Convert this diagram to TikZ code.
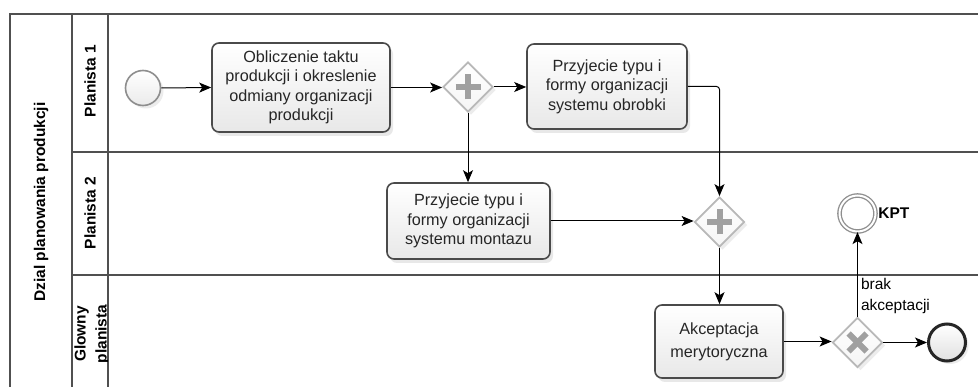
\documentclass[tikz,border=0pt]{standalone}
\usepackage{fontspec}
\setmainfont{Liberation Sans}
\usetikzlibrary{shapes.geometric,arrows.meta,shadows}
\definecolor{framec}{HTML}{505050}
\definecolor{taskb}{HTML}{4A4A4A}
\definecolor{gwb}{HTML}{B8B8B8}
\definecolor{markc}{HTML}{A0A0A0}
\definecolor{evb}{HTML}{8E8E8E}
\begin{document}
\begin{tikzpicture}[x=1pt,y=-1pt,
  font=\fontsize{16.2}{19.5}\selectfont,
  frameline/.style={draw=framec,line width=1.3pt},
  lanelabel/.style={rotate=90,font=\bfseries\fontsize{15.5}{21}\selectfont,align=center,inner sep=0pt},
  task/.style={draw=taskb,line width=1.6pt,rounded corners=7pt,top color=white,bottom color=black!9,
    align=center,inner sep=2pt,text=black!85,
    drop shadow={opacity=0.18,shadow xshift=3pt,shadow yshift=-4pt}},
  gwbase/.style={diamond,aspect=1,draw=gwb,line width=1.8pt,top color=white,bottom color=black!4,
    minimum width=50pt,minimum height=50pt,inner sep=0pt,
    drop shadow={opacity=0.15,shadow xshift=3pt,shadow yshift=-3pt}},
  pgw/.style={gwbase,path picture={
    \draw[markc,line width=6pt] ([xshift=-12.5pt]path picture bounding box.center) -- ([xshift=12.5pt]path picture bounding box.center);
    \draw[markc,line width=6pt] ([yshift=-12.5pt]path picture bounding box.center) -- ([yshift=12.5pt]path picture bounding box.center);}},
  xgw/.style={gwbase,path picture={
    \draw[markc,line width=6pt] ([shift={(-9pt,-9pt)}]path picture bounding box.center) -- ([shift={(9pt,9pt)}]path picture bounding box.center);
    \draw[markc,line width=6pt] ([shift={(-9pt,9pt)}]path picture bounding box.center) -- ([shift={(9pt,-9pt)}]path picture bounding box.center);}},
  startev/.style={circle,draw=evb,line width=1.6pt,top color=white,bottom color=black!8,minimum size=35pt,inner sep=0pt,
    drop shadow={opacity=0.15,shadow xshift=3pt,shadow yshift=-3pt}},
  endev/.style={circle,draw=black!85,line width=3pt,top color=white,bottom color=black!12,minimum size=37pt,inner sep=0pt,
    drop shadow={opacity=0.15,shadow xshift=3pt,shadow yshift=-3pt}},
  interev/.style={circle,draw=evb,line width=1.3pt,double=white,double distance=2pt,fill=white,minimum size=36pt,inner sep=0pt},
  flow/.style={draw=black,line width=1pt,-{Stealth[length=12pt,width=10pt,inset=3pt]}}
]
\useasboundingbox (0,0) rectangle (978,387);
\fill[white] (0,0) rectangle (978,387);
% pool and lanes
\draw[frameline] (978,14) -- (10,14) -- (10,390);
\draw[frameline] (72,14) -- (72,390);
\draw[frameline] (108,14) -- (108,390);
\draw[frameline] (72,152) -- (978,152);
\draw[frameline] (72,275) -- (978,275);
\node[lanelabel] (pool) at (41,202) {Dzial planowania produkcji};
\node[lanelabel] (lane1) at (90,81) {Planista 1};
\node[lanelabel] (lane2) at (90,213) {Planista 2};
\begin{scope}
\clip (72,275) rectangle (107.5,387);
\node[lanelabel] (lane3) at (92,334) {Glowny\\planista};
\end{scope}
% nodes
\node[startev] (start) at (143,88) {};
\node[task,minimum width=178pt,minimum height=89pt] (t1) at (301,87.5) {Obliczenie taktu\\produkcji i okreslenie\\odmiany organizacji\\produkcji};
\node[pgw] (g1) at (468,87) {};
\node[task,minimum width=160pt,minimum height=85pt] (t2) at (607,86.5) {Przyjecie typu i\\formy organizacji\\systemu obrobki};
\node[task,minimum width=163pt,minimum height=76pt] (t3) at (468.5,221) {Przyjecie typu i\\formy organizacji\\systemu montazu};
\node[pgw] (g2) at (719.5,222) {};
\node[task,minimum width=128pt,minimum height=73pt,font=\fontsize{16.2}{23}\selectfont] (t4) at (719,341.5) {Akceptacja\\merytoryczna};
\node[xgw] (g3) at (857.5,342.5) {};
\node[endev] (end) at (947,342.5) {};
\node[interev,label={[font=\bfseries\fontsize{15.5}{19}\selectfont,inner sep=2pt]east:KPT}] (kpt) at (857.5,213.5) {};
% flows
\draw[flow] (start.east) -- (t1.west);
\draw[flow] (t1.east) -- (t1.east -| g1.west);
\draw[flow] (g1.east) -- (g1.east -| t2.west);
\draw[flow] (g1.south) -- (t3.north -| g1.south);
\draw[flow,rounded corners=3pt] (t2.east) -| (g2.north);
\draw[flow] (t3.east) -- (t3.east -| g2.west);
\draw[flow] (g2.south) -- (t4.north -| g2.south);
\draw[flow] (t4.east) -- (t4.east -| g3.west);
\draw[flow] (g3.east) -- (g3.east -| end.west);
\draw[flow] (g3.north) -- node[pos=0.24,anchor=west,align=left,inner sep=1pt,xshift=2pt,font=\fontsize{15.5}{21}\selectfont] (lbl) {brak\\akceptacji} (kpt.south);
\end{tikzpicture}
\end{document}
